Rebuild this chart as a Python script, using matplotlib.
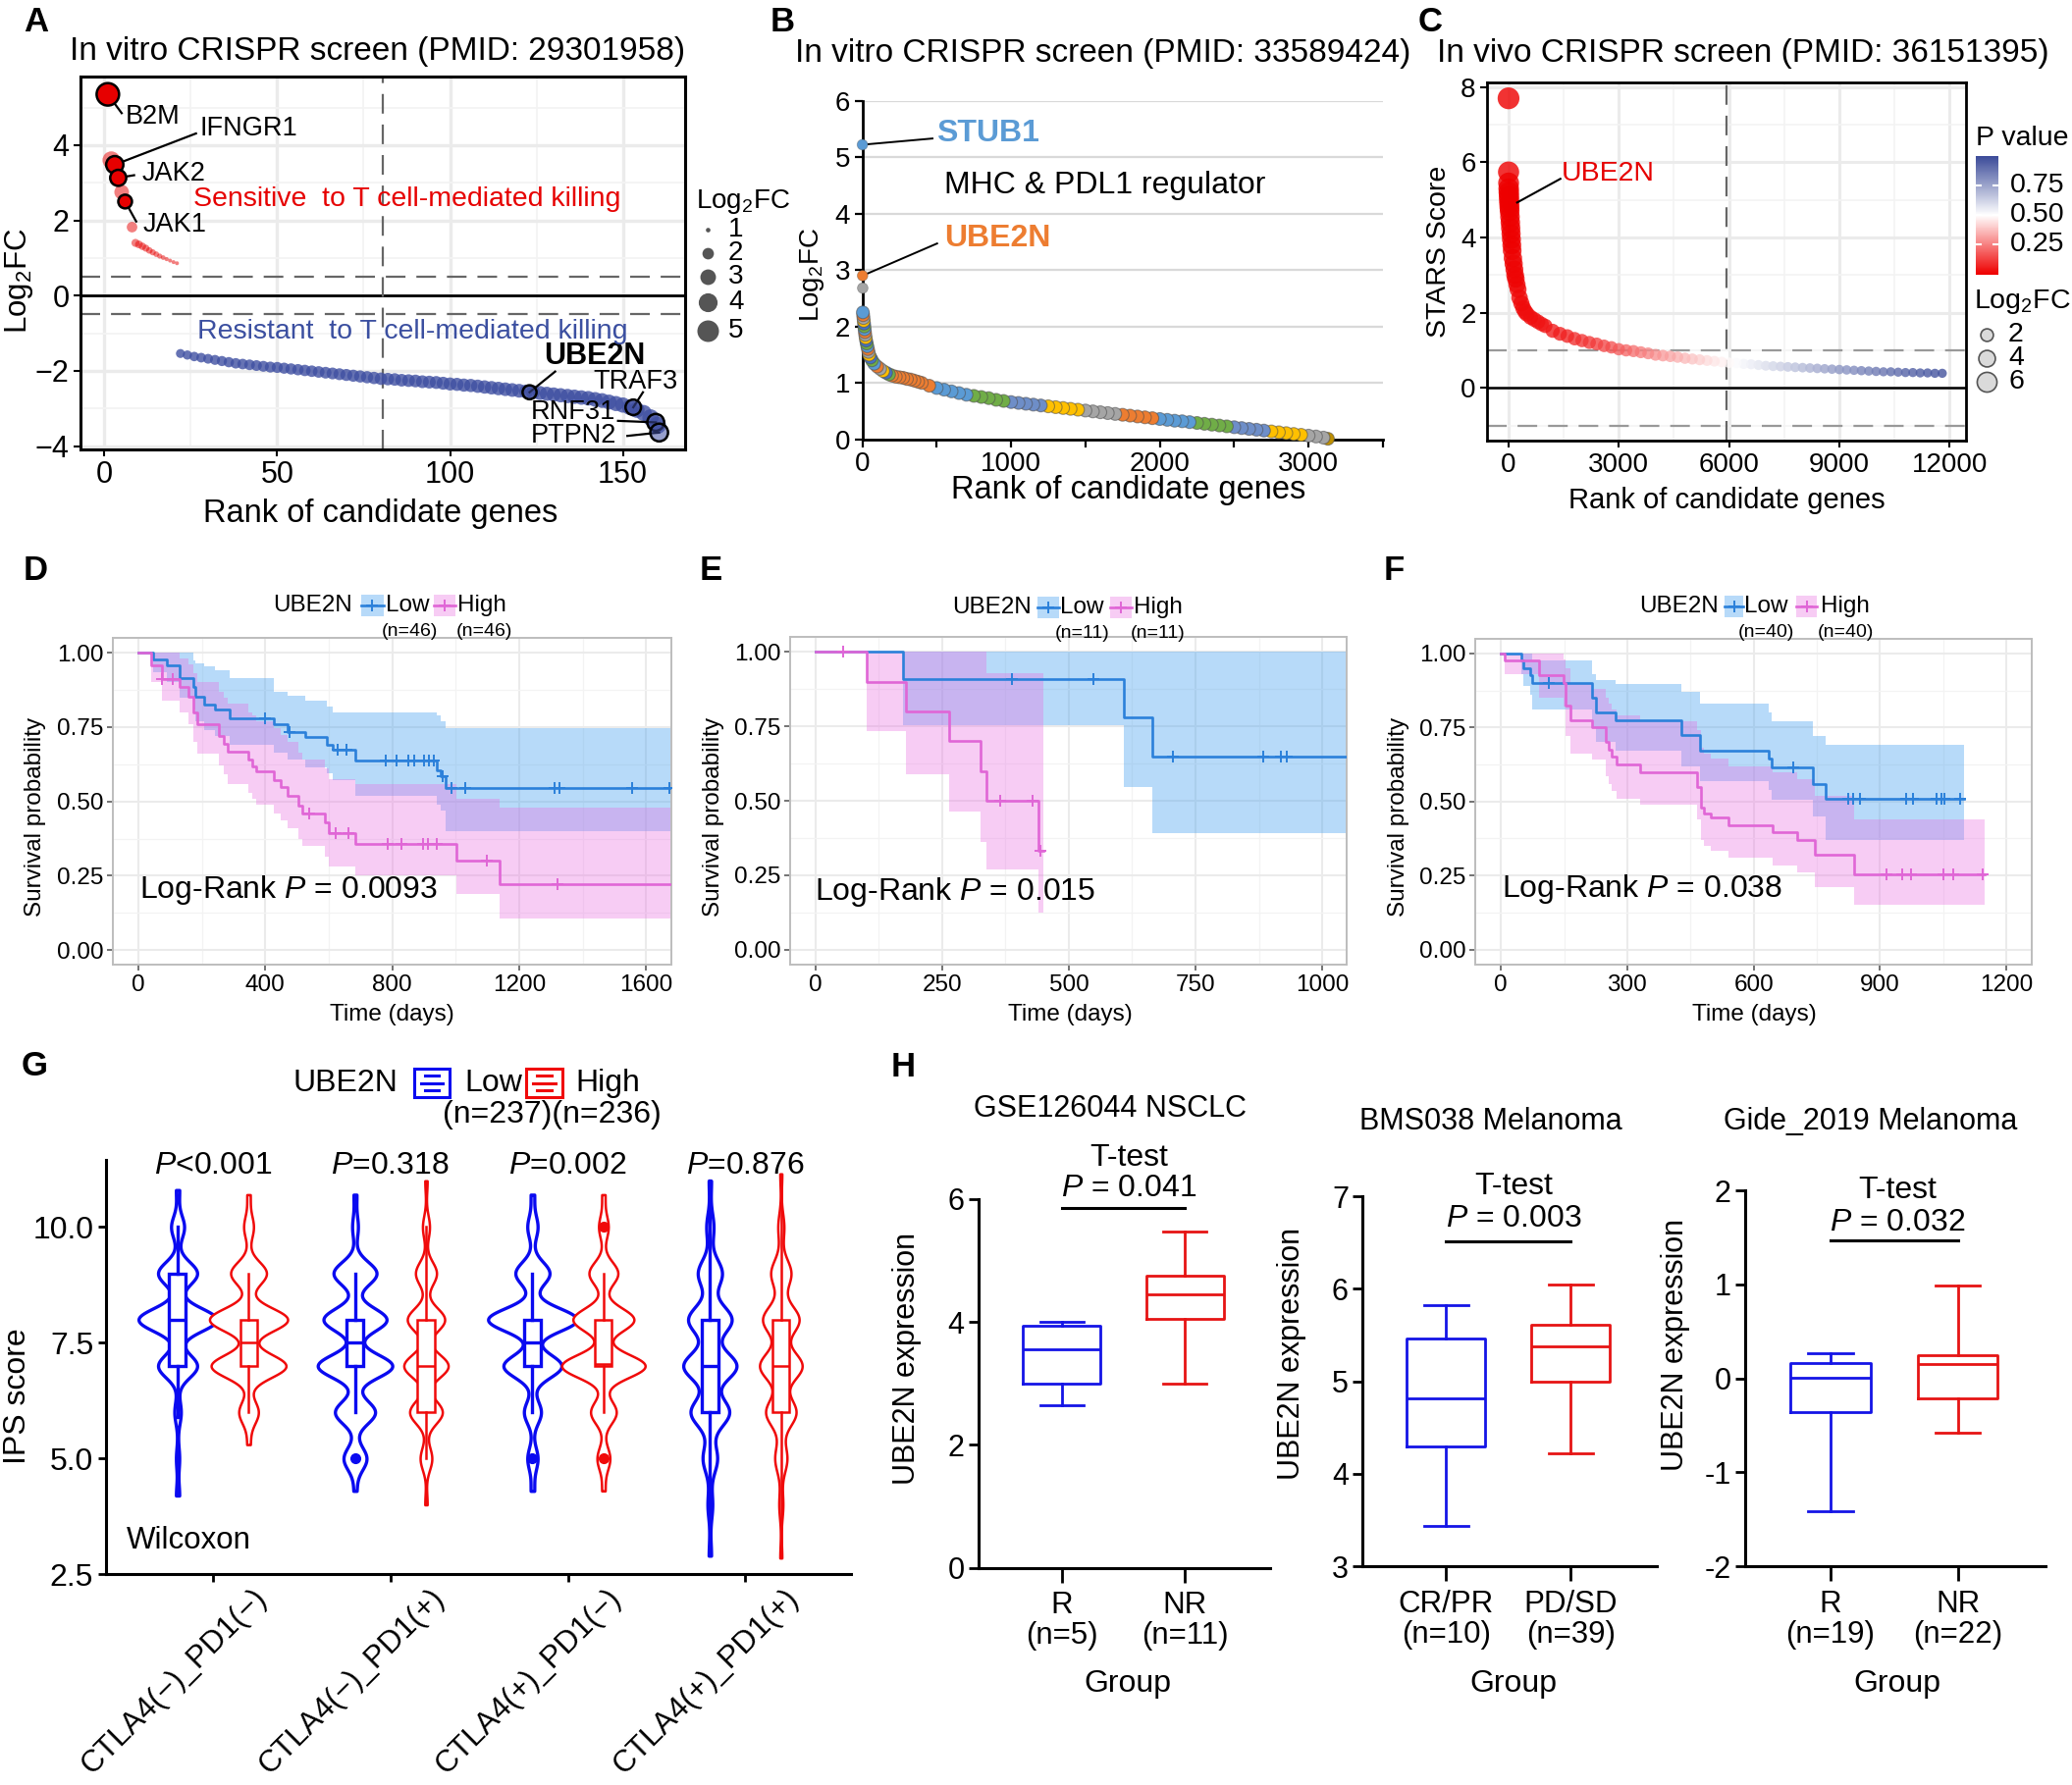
import numpy as np
import matplotlib
matplotlib.use("Agg")
import matplotlib.pyplot as plt
from matplotlib.colors import LinearSegmentedColormap, Normalize
from matplotlib.patches import Rectangle
import matplotlib.colorbar as mcb

plt.rcParams["font.family"] = ["Liberation Sans", "DejaVu Sans"]
plt.rcParams["mathtext.fontset"] = "custom"
plt.rcParams["mathtext.rm"] = "Liberation Sans"
plt.rcParams["mathtext.it"] = "Liberation Sans:italic"
plt.rcParams["mathtext.bf"] = "Liberation Sans:bold"

# ---------------- data ----------------
# A: in vitro screen, PMID 29301958
A_sens_rank = [1, 2, 3, 4, 5, 6, 8, 9, 10, 11, 12, 13, 14, 15, 16, 17, 18, 19, 20, 21]
A_sens_fc = [5.35, 3.6, 3.48, 3.13, 2.75, 2.5, 1.82, 1.40, 1.36, 1.31, 1.26, 1.20,
             1.15, 1.10, 1.05, 1.01, 0.97, 0.93, 0.89, 0.86]
A_sens_genes = {1: "B2M", 3: "IFNGR1", 4: "JAK2", 6: "JAK1"}
A_res_rank = list(range(22, 161, 2))
A_res_fc = [-1.54, -1.58, -1.62, -1.65, -1.68, -1.71, -1.74, -1.77, -1.80, -1.82,
            -1.84, -1.86, -1.88, -1.90, -1.91, -1.93, -1.95, -1.97, -1.99, -2.01,
            -2.03, -2.05, -2.07, -2.09, -2.11, -2.13, -2.15, -2.17, -2.19, -2.21,
            -2.22, -2.23, -2.25, -2.26, -2.27, -2.29, -2.30, -2.31, -2.33, -2.35,
            -2.36, -2.38, -2.39, -2.41, -2.43, -2.45, -2.47, -2.49, -2.51, -2.53,
            -2.55, -2.57, -2.59, -2.61, -2.63, -2.65, -2.67, -2.69, -2.71, -2.73,
            -2.76, -2.79, -2.83, -2.87, -2.91, -2.97, -3.04, -3.12, -3.24, -3.45]
A_res_genes = ["UBE2N", "TRAF3", "RNF31", "PTPN2"]
A_res_gene_rank = [123, 153, 159.5, 160.5]
A_res_gene_fc = [-2.57, -2.97, -3.37, -3.64]

# B: in vitro screen, PMID 33589424
B_special_rank = [1, 2, 3]
B_special_fc = [5.22, 2.90, 2.68]
B_rank = [4, 6, 8, 10, 12, 14, 16, 18, 20, 23, 26, 30, 34, 38, 42, 46, 55, 65, 80, 100,
          120, 140, 160, 180, 200, 225, 250, 275, 300, 325, 350, 375, 400] + list(range(450, 3101, 50)) + [3130]
B_fc = [2.25, 2.2, 2.15, 2.1, 2.05, 2.0, 1.95, 1.9, 1.85, 1.8, 1.75, 1.7, 1.65, 1.6, 1.55, 1.5,
        1.45, 1.4, 1.34, 1.29, 1.25, 1.21, 1.18, 1.15, 1.13, 1.11, 1.10, 1.09, 1.07, 1.06, 1.04, 1.02, 1.0,
        0.95, 0.91, 0.88, 0.85, 0.82, 0.79, 0.77, 0.75, 0.73, 0.70, 0.68, 0.66, 0.645, 0.63, 0.615,
        0.60, 0.585, 0.57, 0.555, 0.54, 0.525, 0.51, 0.495, 0.48, 0.465, 0.45, 0.435, 0.42, 0.405,
        0.39, 0.375, 0.36, 0.345, 0.33, 0.32, 0.305, 0.29, 0.275, 0.26, 0.245, 0.23, 0.215, 0.20,
        0.185, 0.17, 0.155, 0.14, 0.125, 0.11, 0.095, 0.08, 0.065, 0.05, 0.03, 0.01]

# C: in vivo screen, PMID 36151395
C_rank = [1, 2, 3, 5, 8, 12, 16, 20, 25, 30, 40, 50, 60, 70, 80, 90, 100, 120, 140, 160,
          180, 200, 230, 260, 300, 350, 400, 450, 500, 600, 700, 800, 900, 1000] + list(range(1200, 11801, 200))
C_score = [7.7, 5.74, 5.45, 5.3, 5.2, 5.1, 5.0, 4.9, 4.8, 4.7, 4.55, 4.4, 4.25, 4.1, 3.95, 3.8,
           3.65, 3.45, 3.3, 3.15, 3.0, 2.9, 2.75, 2.62, 2.4, 2.25, 2.12, 2.03, 1.97, 1.88, 1.82,
           1.76, 1.70, 1.65,
           1.52, 1.44, 1.38, 1.31, 1.26, 1.21, 1.17, 1.12, 1.08, 1.03, 1.00, 0.98, 0.95, 0.92,
           0.88, 0.86, 0.84, 0.82, 0.79, 0.77, 0.75, 0.73, 0.71, 0.69, 0.67, 0.66, 0.64, 0.63,
           0.61, 0.59, 0.58, 0.57, 0.56, 0.55, 0.54, 0.53, 0.52, 0.51, 0.50, 0.49, 0.48, 0.47,
           0.46, 0.45, 0.44, 0.43, 0.43, 0.42, 0.41, 0.41, 0.40, 0.40, 0.39, 0.39]
C_fc = [7.5, 7.0, 6.8, 6.6, 6.5, 6.4, 6.3, 6.2, 6.1, 6.0, 5.9, 5.8, 5.7, 5.6, 5.5, 5.4, 5.3,
        5.1, 5.0, 4.8, 4.7, 4.6, 4.4, 4.2, 4.0, 3.8, 3.6, 3.5, 3.4, 3.2, 3.1, 3.0, 2.9, 2.8,
        2.7, 2.6, 2.5, 2.4, 2.3, 2.2, 2.1, 2.0, 1.95, 1.9, 1.85, 1.8, 1.75, 1.7, 1.65, 1.6,
        1.55, 1.5, 1.45, 1.4, 1.35, 1.3, 1.25, 1.2, 1.15, 1.1, 1.05, 1.0, 1.0, 0.95, 0.95,
        0.9, 0.9, 0.9, 0.85, 0.85, 0.85, 0.8, 0.8, 0.8, 0.8, 0.75, 0.75, 0.75, 0.75,
        0.7, 0.7, 0.7, 0.7, 0.7, 0.7, 0.7, 0.7, 0.7]
C_p = [0.0] * 16 + [0.01] * 6 + [0.02] * 4 + [0.03] * 3 + [0.03, 0.04, 0.04, 0.05, 0.05] + \
      [0.06, 0.07, 0.08, 0.10, 0.11, 0.12, 0.14, 0.15, 0.17, 0.19, 0.21, 0.23, 0.25, 0.27,
       0.29, 0.31, 0.33, 0.35, 0.37, 0.39, 0.41, 0.43, 0.45, 0.47, 0.49, 0.51, 0.53, 0.55,
       0.57, 0.59, 0.61, 0.63, 0.65, 0.67, 0.69, 0.71, 0.73, 0.75, 0.77, 0.79, 0.80, 0.82,
       0.84, 0.85, 0.87, 0.88, 0.90, 0.91, 0.93, 0.94, 0.95, 0.96, 0.97, 0.98]

# D-F: Kaplan-Meier (time, survival, lower CI, upper CI), censor times, end time
D_low = dict(t=[0, 47, 89, 130, 172, 178, 206, 241, 289, 428, 469, 525, 594, 614, 684, 940, 954, 967],
             s=[1.0, 0.978, 0.957, 0.916, 0.884, 0.851, 0.824, 0.808, 0.781, 0.759, 0.734, 0.716, 0.691, 0.673, 0.637, 0.605, 0.586, 0.546],
             lo=[1.0, 0.935, 0.90, 0.85, 0.81, 0.77, 0.74, 0.72, 0.69, 0.665, 0.64, 0.615, 0.595, 0.57, 0.52, 0.49, 0.47, 0.40],
             hi=[1.0, 1.0, 1.0, 1.0, 0.975, 0.965, 0.953, 0.94, 0.916, 0.87, 0.855, 0.84, 0.82, 0.80, 0.80, 0.79, 0.77, 0.748],
             cens=[400, 476, 628, 656, 780, 815, 850, 870, 900, 915, 930, 960, 988, 1030, 1313, 1327, 1556, 1673],
             end=1678)
D_high = dict(t=[0, 40, 75, 130, 158, 172, 185, 255, 268, 282, 345, 358, 372, 428, 448, 469, 504, 518, 587, 601, 684, 1002, 1140],
              s=[1.0, 0.957, 0.913, 0.884, 0.851, 0.80, 0.759, 0.72, 0.694, 0.667, 0.64, 0.619, 0.60, 0.572, 0.549, 0.52, 0.486, 0.46, 0.43, 0.392, 0.356, 0.30, 0.222],
              lo=[1.0, 0.90, 0.84, 0.80, 0.76, 0.70, 0.66, 0.62, 0.59, 0.56, 0.53, 0.51, 0.49, 0.46, 0.435, 0.41, 0.375, 0.35, 0.315, 0.28, 0.25, 0.19, 0.106],
              hi=[1.0, 1.0, 1.0, 0.98, 0.96, 0.93, 0.90, 0.87, 0.85, 0.83, 0.80, 0.79, 0.77, 0.745, 0.725, 0.70, 0.665, 0.64, 0.61, 0.575, 0.56, 0.51, 0.48],
              cens=[75, 109, 538, 621, 663, 787, 829, 898, 912, 940, 1099, 1320],
              end=1678)
E_low = dict(t=[0, 172, 608, 664], s=[1.0, 0.909, 0.779, 0.649],
             lo=[1.0, 0.754, 0.545, 0.39], hi=[1.0, 1.0, 1.0, 1.0],
             cens=[387, 549, 706, 884, 918, 931], end=1046)
E_high = dict(t=[0, 102, 179, 263, 326, 337, 441], s=[1.0, 0.9, 0.8, 0.7, 0.6, 0.5, 0.333],
              lo=[1.0, 0.735, 0.59, 0.465, 0.36, 0.27, 0.124], hi=[1.0, 1.0, 1.0, 1.0, 1.0, 0.93, 0.93],
              cens=[55, 365, 428, 444], end=450)
F_low = dict(t=[0, 48, 53, 69, 74, 217, 225, 272, 428, 473, 635, 643, 740, 772],
             s=[1.0, 0.975, 0.95, 0.925, 0.90, 0.85, 0.80, 0.775, 0.725, 0.67, 0.645, 0.615, 0.56, 0.51],
             lo=[1.0, 0.93, 0.89, 0.86, 0.81, 0.75, 0.70, 0.67, 0.62, 0.57, 0.54, 0.505, 0.45, 0.37],
             hi=[1.0, 1.0, 1.0, 1.0, 0.975, 0.93, 0.91, 0.895, 0.87, 0.83, 0.80, 0.77, 0.72, 0.69],
             cens=[113, 693, 825, 836, 852, 963, 979, 1034, 1047, 1053, 1090], end=1100)
F_high = dict(t=[0, 8, 90, 148, 153, 164, 217, 249, 257, 264, 275, 331, 465, 476, 483, 499, 540, 645, 703, 746, 839],
              s=[1.0, 0.975, 0.925, 0.90, 0.825, 0.775, 0.75, 0.70, 0.675, 0.65, 0.625, 0.60, 0.55, 0.48, 0.46, 0.445, 0.42, 0.395, 0.37, 0.32, 0.255],
              lo=[1.0, 0.93, 0.85, 0.82, 0.72, 0.66, 0.64, 0.585, 0.56, 0.535, 0.51, 0.49, 0.44, 0.37, 0.35, 0.335, 0.31, 0.285, 0.26, 0.21, 0.15],
              hi=[1.0, 1.0, 1.0, 0.98, 0.95, 0.90, 0.88, 0.85, 0.83, 0.81, 0.79, 0.77, 0.74, 0.68, 0.66, 0.645, 0.62, 0.60, 0.575, 0.52, 0.44],
              cens=[915, 952, 973, 1050, 1074, 1143], end=1148)

# G: IPS score by checkpoint status (support values and counts per violin)
G_groups = ["CTLA4(\u2212)_PD1(\u2212)", "CTLA4(\u2212)_PD1(+)", "CTLA4(+)_PD1(\u2212)", "CTLA4(+)_PD1(+)"]
G_pvals = ["<0.001", "=0.318", "=0.002", "=0.876"]
G_low_vals = [[4.2, 5, 6, 7, 8, 9, 10, 10.8], [4.3, 5, 6, 7, 8, 9, 10, 10.7],
              [4.3, 5, 6, 7, 8, 9, 10, 10.7], [2.9, 4, 5, 6, 7, 8, 9, 10, 11.0]]
G_low_counts = [[1, 1, 2, 12, 24, 12, 4, 1], [1, 8, 14, 26, 22, 15, 2, 1],
                [1, 3, 5, 17, 26, 10, 3, 1], [1, 2, 6, 16, 22, 18, 10, 3, 1]]
G_high_vals = [[5.3, 6, 7, 8, 9, 10, 10.7], [4.0, 5, 6, 7, 8, 9, 10, 11.0],
               [4.3, 5, 6, 7, 8, 9, 10, 10.7], [2.85, 4, 5, 6, 7, 8, 9, 10, 11.15]]
G_high_counts = [[1, 6, 23, 24, 11, 3, 1], [1, 5, 14, 19, 16, 9, 3, 1],
                 [1, 4, 8, 26, 19, 9, 3, 1], [1, 2, 6, 15, 21, 18, 10, 3, 1]]
# (whislo, q1, med, q3, whishi)
G_low_box = [(5.9, 7, 8, 9, 10.0), (6, 7, 7.5, 8, 9), (6, 7, 7.5, 8, 9), (3.0, 6, 7, 8, 11.0)]
G_high_box = [(6, 7, 7.5, 8, 9), (5, 6, 7, 8, 10), (6, 7, 7.05, 8, 9), (3.0, 6, 7, 8, 11.0)]
G_low_fliers = [[], [5.0], [5.0], []]
G_high_fliers = [[], [], [5.0, 10.0], []]

# H: UBE2N expression in ICB cohorts
H_titles = ["GSE126044 NSCLC", "BMS038 Melanoma", "Gide_2019 Melanoma"]
H_groups = [["R\n(n=5)", "NR\n(n=11)"], ["CR/PR\n(n=10)", "PD/SD\n(n=39)"], ["R\n(n=19)", "NR\n(n=22)"]]
H_pvals = ["0.041", "0.003", "0.032"]
H_box = [[(2.65, 3.0, 3.55, 3.93, 4.0), (3.0, 4.05, 4.45, 4.75, 5.47)],
         [(3.43, 4.29, 4.81, 5.46, 5.82), (4.22, 4.99, 5.38, 5.61, 6.04)],
         [(-1.41, -0.36, 0.01, 0.16, 0.27), (-0.58, -0.21, 0.15, 0.25, 0.99)]]
H_ylim = [(0, 6), (3, 7), (-2, 2)]
H_yticks = [[0, 2, 4, 6], [3, 4, 5, 6, 7], [-2, -1, 0, 1, 2]]
H_sig_y = [5.85, 6.51, 1.47]

# ---------------- figure ----------------
W, H = 2111, 1819
fig = plt.figure(figsize=(W / 100, H / 100), dpi=100)


def px_axes(l, t, r, b, **kw):
    return fig.add_axes([l / W, 1 - b / H, (r - l) / W, (b - t) / H], **kw)


RED = "#E60000"
NAVY = "#4050A2"
GRID = "#EBEBEB"
GRID2 = "#F3F3F3"
LOG2FC = r"Log$_\mathregular{2}$FC"


def a_size(v):
    d = np.sqrt(np.clip(-94.5 + 115.7 * np.abs(np.asarray(v, float)), 16, None))
    return (0.72 * d) ** 2


def c_size(v):
    d = np.sqrt(45 + 60 * np.asarray(v, float))
    return (0.72 * d) ** 2


# ---------- A ----------
axA = px_axes(81.7, 78.5, 698, 458)
axA.set_xticks([0, 50, 100, 150])
axA.set_xticks([25, 75, 125], minor=True)
axA.set_yticks([-4, -2, 0, 2, 4])
axA.set_yticks([-3, -1, 1, 3, 5], minor=True)
axA.set_xlim(-7, 168)
axA.set_ylim(-4.09, 5.81)
axA.grid(True, which="major", color=GRID, lw=2.4)
axA.grid(True, which="minor", color=GRID2, lw=1.3)
axA.set_axisbelow(True)
axA.tick_params(which="major", labelsize=22, length=5, width=1.5, pad=3)
axA.tick_params(which="minor", length=0)
for sp in axA.spines.values():
    sp.set_linewidth(2.2)
dash = (0, (9, 5))
axA.axhline(0, color="black", lw=2.0, zorder=1)
axA.axhline(0.5, color="#666666", lw=1.6, ls=dash, zorder=1)
axA.axhline(-0.5, color="#666666", lw=1.6, ls=dash, zorder=1)
axA.axvline(80.5, color="#666666", lw=1.6, ls=dash, zorder=1)

sr = np.array(A_sens_rank)
sf = np.array(A_sens_fc)
hl = np.isin(sr, list(A_sens_genes))
axA.scatter(sr[~hl], sf[~hl], s=a_size(sf[~hl]), color=RED, alpha=0.5, lw=0, zorder=3)
rr = np.array(A_res_rank)
rf = np.array(A_res_fc)
axA.scatter(rr, rf, s=a_size(rf), color=NAVY, alpha=0.8, lw=0, zorder=3)
# leader lines
seg = {"B2M": ((1, 5.35), (5.0, 4.85)), "IFNGR1": ((3, 3.48), (26.5, 4.31)),
       "JAK2": ((4, 3.13), (8.6, 3.2)), "JAK1": ((6, 2.5), (9.2, 1.97)),
       "UBE2N": ((123, -2.57), (130.4, -2.02)), "TRAF3": ((153, -2.97), (155.8, -2.57)),
       "RNF31": ((159.5, -3.37), (148.6, -3.33)), "PTPN2": ((160.5, -3.64), (151.3, -3.73))}
for g, (p0, p1) in seg.items():
    axA.plot([p0[0], p1[0]], [p0[1], p1[1]], color="black", lw=1.6, zorder=4)
axA.scatter(sr[hl], sf[hl], s=a_size(sf[hl]), facecolor=RED, edgecolor="black", lw=1.8, zorder=5)
gr = np.array(A_res_gene_rank)
gf = np.array(A_res_gene_fc)
axA.scatter(gr, gf, s=a_size(gf), facecolor=(0.25, 0.31, 0.64, 0.55), edgecolor="black", lw=1.8, zorder=5)
lab_kw = dict(fontsize=19.5, va="center", ha="left", zorder=6)
axA.text(6.1, 4.76, "B2M", **lab_kw)
axA.text(27.6, 4.43, "IFNGR1", **lab_kw)
axA.text(10.8, 3.24, "JAK2", **lab_kw)
axA.text(11.2, 1.88, "JAK1", **lab_kw)
axA.text(127.2, -1.62, "UBE2N", fontsize=22, fontweight="bold", va="center", ha="left", zorder=6)
axA.text(141.5, -2.28, "TRAF3", **lab_kw)
axA.text(123.3, -3.11, "RNF31", **lab_kw)
axA.text(123.3, -3.73, "PTPN2", **lab_kw)
axA.text(87.5, 2.56, "Sensitive  to T cell-mediated killing", color=RED, fontsize=20.5,
         ha="center", va="center", zorder=6)
axA.text(89.0, -0.97, "Resistant  to T cell-mediated killing", color="#3B4FA0", fontsize=20.5,
         ha="center", va="center", zorder=6)

# ---------- B ----------
axB = px_axes(878.5, 102.6, 1409, 447.7)
axB.set_xticks([0, 1000, 2000, 3000])
axB.set_xticks([500, 1500, 2500, 3500], minor=True)
axB.set_yticks(range(7))
axB.set_xlim(0, 3500)
axB.set_ylim(0, 6)
for sp in ["top", "right"]:
    axB.spines[sp].set_visible(False)
for sp in ["left", "bottom"]:
    axB.spines[sp].set_linewidth(2.0)
axB.tick_params(which="both", length=6, width=1.6, direction="out")
axB.tick_params(labelsize=20, pad=3)
for v in range(1, 7):
    axB.axhline(v, color="#D9D9D9", lw=1.6, zorder=0)
B_palette = ["#5B9BD5", "#ED7D31", "#A5A5A5", "#FFC000", "#4472C4", "#70AD47"]
B_chunk = ["#ED7D31", "#ED7D31", "#5B9BD5", "#70AD47", "#6E8EC8", "#FFC000", "#A5A5A5",
           "#ED7D31", "#5B9BD5", "#70AD47", "#6E8EC8", "#FFC000", "#A5A5A5", "#BF9000"]
b_cols = []
for i, r in enumerate(B_rank):
    if r < 200:
        b_cols.append(B_palette[i % 6])
    elif r >= 3120:
        b_cols.append("#BF9000")
    else:
        b_cols.append(B_chunk[r // 250])
axB.scatter(B_rank[::-1], B_fc[::-1], s=88, c=b_cols[::-1], edgecolors=(0.3, 0.3, 0.3, 0.55),
            linewidths=0.8, zorder=3, clip_on=False)
axB.plot([1, 472], [5.22, 5.33], color="black", lw=1.4, zorder=3)
axB.plot([2, 503], [2.9, 3.47], color="black", lw=1.4, zorder=3)
axB.scatter(B_special_rank, B_special_fc, s=60, c=["#5B9BD5", "#ED7D31", "#A5A5A5"],
            edgecolors=(0.3, 0.3, 0.3, 0.4), linewidths=0.6, zorder=4, clip_on=False)
axB.text(497, 5.42, "STUB1", color="#5B9BD5", fontsize=23, fontweight="bold", va="center", ha="left")
axB.text(549, 4.5, "MHC & PDL1 regulator", fontsize=23, va="center", ha="left")
axB.text(549, 3.56, "UBE2N", color="#ED7D31", fontsize=23, fontweight="bold", va="center", ha="left")

# ---------- C ----------
axC = px_axes(1514.8, 83.7, 2002.6, 449.4)
axC.set_xticks([0, 3000, 6000, 9000, 12000])
axC.set_xticks([1500, 4500, 7500, 10500], minor=True)
axC.set_yticks([0, 2, 4, 6, 8])
axC.set_yticks([-1, 1, 3, 5, 7], minor=True)
axC.set_xlim(-590, 12435)
axC.set_ylim(-1.41, 8.13)
axC.grid(True, which="major", color=GRID, lw=2.2)
axC.grid(True, which="minor", color=GRID2, lw=1.2)
axC.set_axisbelow(True)
axC.tick_params(which="major", labelsize=20, length=5, width=1.5, pad=3)
axC.tick_params(which="minor", length=0)
for sp in axC.spines.values():
    sp.set_linewidth(2.0)
axC.axhline(0, color="black", lw=1.8, zorder=1)
axC.axhline(1, color="#999999", lw=1.6, ls=dash, zorder=1)
axC.axhline(-1, color="#999999", lw=1.6, ls=dash, zorder=1)
axC.axvline(5920, color="#666666", lw=1.6, ls=dash, zorder=1)
pcmap = LinearSegmentedColormap.from_list("pv", ["#EE0000", "#FFFFFF", "#3B4B99"])
pnorm = Normalize(0, 1)
cr = np.array(C_rank)[::-1]
cs = np.array(C_score)[::-1]
cf = np.array(C_fc)[::-1]
cp = np.array(C_p)[::-1]
axC.scatter(cr, cs, s=c_size(cf), c=pcmap(pnorm(cp)), alpha=0.8, lw=0, zorder=3)
axC.plot([235, 1412], [4.93, 5.56], color="black", lw=1.5, zorder=4)
axC.text(1447, 5.7, "UBE2N", color=RED, fontsize=20.5, va="center", ha="left")

cax = px_axes(2012.8, 159, 2036, 279.6)
cb = mcb.ColorbarBase(cax, cmap=pcmap, norm=pnorm, orientation="vertical")
cb.set_ticks([])
cb.outline.set_visible(False)

# ---------- D-F Kaplan-Meier ----------
LOW_LINE, HIGH_LINE = "#2B80DA", "#E066D6"
LOW_BAND, HIGH_BAND = "#4DA3F0", "#E96FE2"


def km_panel(box, xlim, xticks, low, high):
    ax = px_axes(*box)
    ax.set_xticks(xticks)
    step = xticks[1] - xticks[0]
    ax.set_xticks([x + step / 2 for x in xticks if x + step / 2 < xlim[1]], minor=True)
    ax.set_yticks([0, 0.25, 0.5, 0.75, 1.0])
    ax.set_yticklabels(["0.00", "0.25", "0.50", "0.75", "1.00"])
    ax.set_yticks([0.125, 0.375, 0.625, 0.875], minor=True)
    ax.set_xlim(*xlim)
    ax.set_ylim(-0.05, 1.05)
    ax.grid(True, which="major", color=GRID, lw=1.5)
    ax.grid(True, which="minor", color=GRID2, lw=0.9)
    ax.set_axisbelow(True)
    for sp in ax.spines.values():
        sp.set_color("#BDBDBD")
        sp.set_linewidth(1.4)
    ax.tick_params(which="major", length=4, width=1.1, color="#4D4D4D", labelsize=17.5, pad=3)
    ax.tick_params(which="minor", length=0)
    curves = [(low, LOW_LINE, LOW_BAND, 0.4), (high, HIGH_LINE, HIGH_BAND, 0.35)]
    for d, lc, bc, al in curves:
        te = list(d["t"]) + [d["end"]]
        ax.fill_between(te, list(d["lo"]) + [d["lo"][-1]], list(d["hi"]) + [d["hi"][-1]],
                        step="post", color=bc, alpha=al, lw=0, zorder=1)
    for d, lc, bc, al in curves:
        te = list(d["t"]) + [d["end"]]
        se = list(d["s"]) + [d["s"][-1]]
        ax.step(te, se, where="post", color=lc, lw=1.9, zorder=3)
        idx = np.searchsorted(d["t"], d["cens"], side="right") - 1
        ax.plot(d["cens"], np.array(d["s"])[idx], "+", color=lc, ms=9, mew=1.4, zorder=4)
    return ax


km_panel((115.2, 650, 684, 983.4), (-80, 1680), [0, 400, 800, 1200, 1600], D_low, D_high)
km_panel((804.9, 649.3, 1371.9, 982.8), (-50, 1048), [0, 250, 500, 750, 1000], E_low, E_high)
km_panel((1503.4, 650.7, 2070.3, 982.8), (-60, 1261), [0, 300, 600, 900, 1200], F_low, F_high)

# ---------- G ----------
axG = px_axes(107.7, 1182, 867.3, 1604.2)
axG.set_yticks([2.5, 5.0, 7.5, 10.0])
axG.set_yticklabels(["2.5", "5.0", "7.5", "10.0"])
axG.set_xticks(range(4))
axG.set_xticklabels([])
axG.set_xlim(-0.605, 3.597)
axG.set_ylim(2.5, 11.45)
for sp in ["top", "right"]:
    axG.spines[sp].set_visible(False)
for sp in ["left", "bottom"]:
    axG.spines[sp].set_linewidth(2.2)
axG.tick_params(which="both", length=6, width=2, labelsize=23, pad=3)
G_BLUE, G_RED = "#0A0AF0", "#F00A0A"
low_hw = [0.22, 0.21, 0.25, 0.15]
high_hw = [0.22, 0.125, 0.235, 0.12]
bws = [0.25, 0.25, 0.25, 0.3]


def violin(ax, pos, vals, counts, halfw, color, lw, bw):
    vals = np.asarray(vals, float)
    counts = np.asarray(counts, float)
    y = np.linspace(vals.min(), vals.max(), 400)
    dens = (counts[:, None] * np.exp(-0.5 * ((y[None, :] - vals[:, None]) / bw) ** 2)).sum(0)
    half = dens / dens.max() * halfw
    ax.fill_betweenx(y, pos - half, pos + half, facecolor="white", edgecolor=color, lw=lw, zorder=2)


def gstats(b, fl):
    return dict(whislo=b[0], q1=b[1], med=b[2], q3=b[3], whishi=b[4], fliers=fl)


for i in range(4):
    violin(axG, i - 0.2, G_low_vals[i], G_low_counts[i], low_hw[i], G_BLUE, 2.4, bws[i])
    violin(axG, i + 0.2, G_high_vals[i], G_high_counts[i], high_hw[i], G_RED, 1.8, bws[i])
    for pos, b, fl, col, lw in [(i - 0.2, G_low_box[i], G_low_fliers[i], G_BLUE, 2.4),
                                (i + 0.2, G_high_box[i], G_high_fliers[i], G_RED, 1.8)]:
        axG.bxp([gstats(b, fl)], positions=[pos], widths=0.095, showcaps=False, patch_artist=True,
                boxprops=dict(facecolor="white", edgecolor=col, lw=lw),
                whiskerprops=dict(color=col, lw=lw), medianprops=dict(color=col, lw=lw),
                flierprops=dict(marker="o", markerfacecolor=col, markeredgecolor=col, ms=7),
                manage_ticks=False, zorder=3)
    axG.text(i, 11.32, r"$\mathit{P}$" + G_pvals[i], fontsize=23, ha="center", va="center")
axG.text(-0.487, 3.22, "Wilcoxon", fontsize=22.5, ha="left", va="center")

# ---------- H ----------
H_boxes_px = [(996.6, 1221.9, 1294.3, 1597.5), (1387.8, 1219, 1687.9, 1596), (1777.5, 1213.3, 2083.9, 1596)]
H_BLUE, H_RED = "#1414E6", "#E61414"
for k in range(3):
    ax = px_axes(*H_boxes_px[k])
    ax.set_yticks(H_yticks[k])
    ax.set_yticklabels([str(v) for v in H_yticks[k]])
    ax.set_xticks([0, 1])
    ax.set_xticklabels(H_groups[k], linespacing=1.05)
    ax.set_xlim(-0.675, 1.69)
    ax.set_ylim(*H_ylim[k])
    for sp in ["top", "right"]:
        ax.spines[sp].set_visible(False)
    for sp in ["left", "bottom"]:
        ax.spines[sp].set_linewidth(2.2)
    ax.tick_params(axis="y", length=7, width=2, labelsize=22, pad=3)
    ax.tick_params(axis="x", length=11, width=2, labelsize=22.5, pad=6)
    for j, col in enumerate([H_BLUE, H_RED]):
        b = H_box[k][j]
        ax.bxp([gstats(b, [])], positions=[j], widths=0.63, capwidths=0.35, patch_artist=False,
               boxprops=dict(color=col, lw=2.0), whiskerprops=dict(color=col, lw=2.0),
               capprops=dict(color=col, lw=2.0), medianprops=dict(color=col, lw=2.0),
               manage_ticks=False, showfliers=False)
    ax.plot([0, 1], [H_sig_y[k], H_sig_y[k]], color="black", lw=2.2, clip_on=False)

# ---------- overlay: titles, labels, legends ----------
ov = fig.add_axes([0, 0, 1, 1], zorder=10)
ov.set_xlim(0, W)
ov.set_ylim(H, 0)
ov.axis("off")
ov.patch.set_visible(False)


def T(x, y, s, **kw):
    kw.setdefault("ha", "center")
    kw.setdefault("va", "center")
    ov.text(x, y, s, **kw)


for L, (x, y) in zip("ABCDEFGH", [(37, 22), (797, 22), (1457.5, 22), (35.7, 581), (724.5, 581),
                                 (1420.4, 581), (35, 1086), (920, 1087)]):
    T(x, y, L, fontsize=25, fontweight="bold")

T(385, 53, "In vitro CRISPR screen (PMID: 29301958)", fontsize=24)
T(1124, 55, "In vitro CRISPR screen (PMID: 33589424)", fontsize=24)
T(1776, 55, "In vivo CRISPR screen (PMID: 36151395)", fontsize=24)
T(20, 286, LOG2FC, fontsize=22.5, rotation=90)
T(388, 523, "Rank of candidate genes", fontsize=23.5)
T(827.5, 280, LOG2FC, fontsize=20, rotation=90)
T(1150, 499, "Rank of candidate genes", fontsize=23.5)
T(1466, 256.5, "STARS Score", fontsize=20.5, rotation=90)
T(1759, 510, "Rank of candidate genes", fontsize=21)

# A size legend
T(709, 205.6, LOG2FC, fontsize=20, ha="left")
for v, y in zip([1, 2, 3, 4, 5], [234, 258, 282, 308, 337]):
    ov.scatter([721], [y], s=a_size(v), color="#555555", lw=0)
    T(742, y, str(v), fontsize=20, ha="left")

# C legends
T(2012.8, 141, "P value", fontsize=20.5, ha="left")
for v, y in zip([0.75, 0.50, 0.25], [189.2, 219.3, 249.5]):
    ov.plot([2012.8, 2018], [y, y], color="white", lw=1.5)
    ov.plot([2030.8, 2036], [y, y], color="white", lw=1.5)
    T(2048, y, f"{v:.2f}", fontsize=20.5, ha="left")
T(2010.6, 308, LOG2FC, fontsize=20.5, ha="left")
for v, y in zip([2, 4, 6], [341, 365, 389]):
    ov.scatter([2023.8], [y], s=c_size(v), facecolor="#DADADA", edgecolor="#555555", lw=1.2)
    T(2046, y, str(v), fontsize=20.5, ha="left")

# KM labels and legends
km_text = [(142, 907, "0.0093", 319, 617, (368, 390.6), 393, (442, 464), 466.5, 417, 493, "46", 35.7, 399.6),
           (829.5, 909, "0.015", 1010.5, 619, (1057, 1078.6), 1080, (1131, 1153), 1155, 1103, 1180, "11", 726.8, 1090.6),
           (1530, 906, "0.038", 1710.5, 618, (1757, 1776), 1777, (1830, 1851), 1855, 1799, 1880, "40", 1425, 1787.8)]
for (px, py, pv, ux, uy, lbox, lx, hbox, hx, nlx, nhx, n, ylx, xlx) in km_text:
    T(px, py, r"Log-Rank $\mathit{P}$ = " + pv, fontsize=23, ha="left")
    T(ux, uy, "UBE2N", fontsize=17.5)
    for (x0, x1), lc, bc, al in [(lbox, LOW_LINE, LOW_BAND, 0.4), (hbox, HIGH_LINE, HIGH_BAND, 0.35)]:
        ov.add_patch(Rectangle((x0, uy - 11), x1 - x0, 22, facecolor=bc, alpha=al, lw=0))
        ov.plot([x0, x1], [uy, uy], color=lc, lw=1.9)
        ov.plot([(x0 + x1) / 2], [uy], "+", color=lc, ms=9, mew=1.4)
    T(lx, uy, "Low", fontsize=17.5, ha="left")
    T(hx, uy, "High", fontsize=17.5, ha="left")
    T(nlx, uy + 26, f"(n={n})", fontsize=14)
    T(nhx, uy + 26, f"(n={n})", fontsize=14)
    T(ylx, 832, "Survival probability", fontsize=17.5, rotation=90)
    T(xlx, 1034, "Time (days)", fontsize=17.5)

# G legend, labels
T(352, 1103.5, "UBE2N", fontsize=23)
for (x0, x1), col, lx, txt in [((422, 458), G_BLUE, 473, "Low"), ((536, 572.6), G_RED, 586.7, "High")]:
    ov.add_patch(Rectangle((x0, 1089), x1 - x0, 29, facecolor="white", edgecolor=col, lw=2.2))
    ov.plot([x0 + 7, x1 - 7], [1103.5, 1103.5], color=col, lw=2.2)
    ov.plot([x0 + 11, x1 - 11], [1096, 1096], color=col, lw=2.2)
    ov.plot([x0 + 11, x1 - 11], [1111, 1111], color=col, lw=2.2)
    T(lx, 1103.5, txt, fontsize=23, ha="left")
T(562.7, 1136, "(n=237)(n=236)", fontsize=23)
T(18, 1423, "IPS score", fontsize=23, rotation=90)
for i, g in enumerate(G_groups):
    T(217 + 180.8 * i + 50, 1624, g, fontsize=22.5, rotation=45, ha="right", va="center",
      rotation_mode="anchor")

# H titles and labels
H_txt = [(1130.6, 1130.4, 1150, 1179.6, 1210.8, 924, 1384, 1148.5),
         (1518.8, 1142.5, 1542, 1209.4, 1242, 1316, 1379, 1542),
         (1906, 1142.5, 1933, 1213, 1245.5, 1707.4, 1370, 1933)]
for k, (tx, ty, sx, sy1, sy2, yx, yy, gx) in enumerate(H_txt):
    T(tx, ty, H_titles[k], fontsize=22)
    T(sx, sy1, "T-test", fontsize=23)
    T(sx, sy2, r"$\mathit{P}$ = " + H_pvals[k], fontsize=23)
    T(yx, yy, "UBE2N expression", fontsize=22, rotation=90)
    T(gx, 1716, "Group", fontsize=23)

fig.savefig("out.png", dpi=100)
